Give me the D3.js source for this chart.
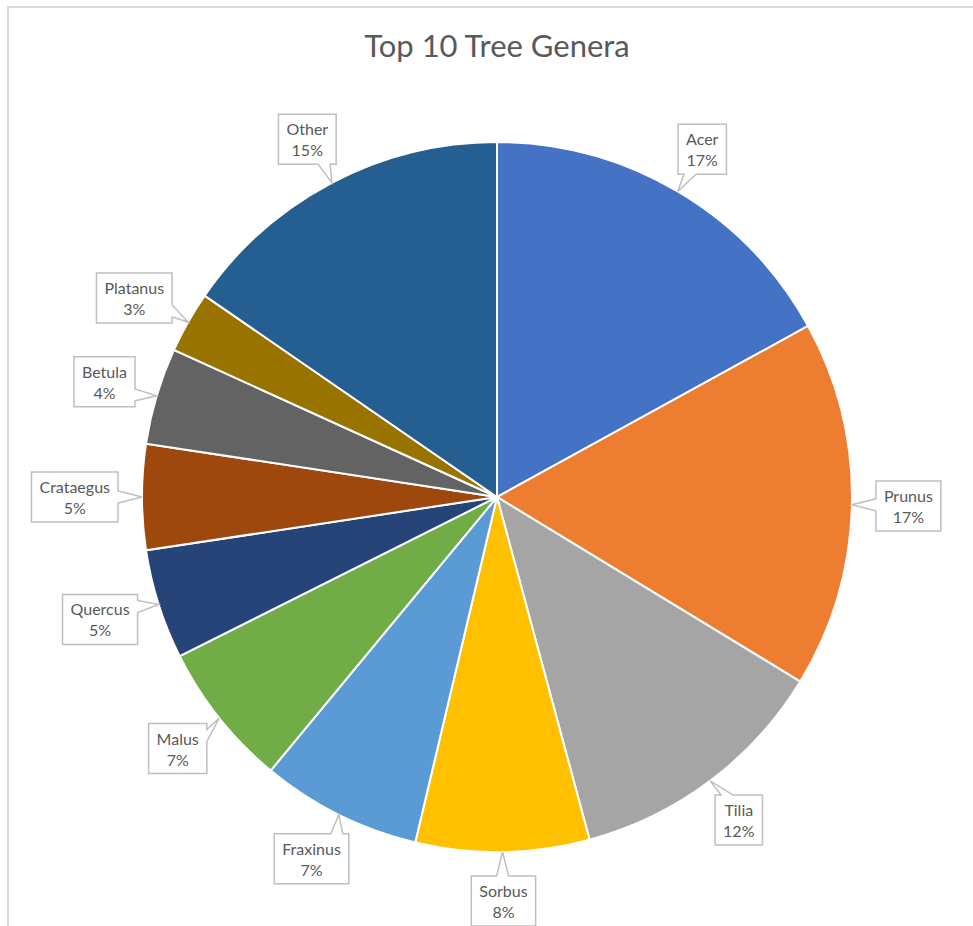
<!DOCTYPE html>
<html lang="en">
<head>
    <meta charset="UTF-8">
    <title>Top 10 Tree Genera</title>
    <style>
        body {
            margin: 0;
            padding: 0;
            background-color: white;
            font-family: Lato, "Open Sans", sans-serif;
        }
        .slice {
            stroke: white;
            stroke-width: 2;
        }
        .callout {
            fill: white;
            stroke: #bfbfbf;
            stroke-width: 1.5;
        }
        .label {
            fill: #595959;
            font-size: 16px;
        }
    </style>
    <script src="https://d3js.org/d3.v7.min.js"></script>
</head>
<body>
    <div id="chart"></div>

    <script>
        // Data (shares out of 1000)
        const genera = ["Acer", "Prunus", "Tilia", "Sorbus", "Fraxinus", "Malus",
                        "Quercus", "Crataegus", "Betula", "Platanus", "Other"];
        const counts = [170, 167, 121, 79, 73, 66, 50, 48, 44, 28, 154];
        const colours = ["#4472c4", "#ed7d31", "#a5a5a5", "#ffc000", "#5b9bd5", "#70ad47",
                         "#264478", "#9e480e", "#636363", "#997300", "#255e91"];

        const width = 973, height = 926;
        const cx = 497, cy = 497, radius = 355;

        const data = genera.map((g, i) => ({ name: g, value: counts[i], colour: colours[i] }));
        const total = d3.sum(counts);

        const svg = d3.select("#chart")
            .append("svg")
            .attr("width", width)
            .attr("height", height);

        // chart area frame
        svg.append("path")
            .attr("d", `M8,${height} L8,7 L${width},7`)
            .attr("fill", "none")
            .attr("stroke", "#d9d9d9")
            .attr("stroke-width", 2);

        svg.append("text")
            .attr("x", cx)
            .attr("y", 57)
            .attr("text-anchor", "middle")
            .attr("fill", "#595959")
            .style("font-size", "31px")
            .text("Top 10 Tree Genera");

        const pie = d3.pie().value(d => d.value).sort(null);
        const arc = d3.arc().innerRadius(0).outerRadius(radius);
        const arcs = pie(data);

        const g = svg.append("g").attr("transform", `translate(${cx},${cy})`);

        g.selectAll(".slice")
            .data(arcs)
            .enter().append("path")
            .attr("class", "slice")
            .attr("fill", d => d.data.colour)
            .attr("d", arc);

        // callout labels
        function calloutPath(x0, y0, w, h, tx, ty) {
            const x1 = x0 + w, y1 = y0 + h;
            const bcx = x0 + w / 2, bcy = y0 + h / 2;
            const dx = tx - bcx, dy = ty - bcy;
            const base = 12;
            let side;
            if (Math.abs(dx) / w > Math.abs(dy) / h) side = dx < 0 ? "left" : "right";
            else side = dy < 0 ? "top" : "bottom";
            const clampX = v => Math.max(x0 + 6, Math.min(x1 - 6 - base, v));
            const clampY = v => Math.max(y0 + 6, Math.min(y1 - 6 - base, v));
            let p = `M${x0},${y0}`;
            if (side === "top") {
                const a = clampX(tx - base / 2);
                p += `L${a},${y0}L${tx},${ty}L${a + base},${y0}`;
            }
            p += `L${x1},${y0}`;
            if (side === "right") {
                const a = clampY(ty - base / 2);
                p += `L${x1},${a}L${tx},${ty}L${x1},${a + base}`;
            }
            p += `L${x1},${y1}`;
            if (side === "bottom") {
                const a = clampX(tx - base / 2);
                p += `L${a + base},${y1}L${tx},${ty}L${a},${y1}`;
            }
            p += `L${x0},${y1}`;
            if (side === "left") {
                const a = clampY(ty - base / 2);
                p += `L${x0},${a + base}L${tx},${ty}L${x0},${a}`;
            }
            return p + "Z";
        }

        const labels = g.selectAll(".lab")
            .data(arcs)
            .enter().append("g")
            .attr("class", "lab");

        labels.each(function (d) {
            const sel = d3.select(this);
            const mid = (d.startAngle + d.endAngle) / 2;
            const sx = Math.sin(mid), sy = -Math.cos(mid);
            const tip = [sx * radius, sy * radius];
            const anchor = [sx * (radius + 24), sy * (radius + 24)];
            const pct = Math.round(d.data.value / total * 100) + "%";

            const path = sel.append("path").attr("class", "callout");
            const t1 = sel.append("text").attr("class", "label")
                .attr("text-anchor", "middle").text(d.data.name);
            const t2 = sel.append("text").attr("class", "label")
                .attr("text-anchor", "middle").text(pct);

            const tw = Math.max(t1.node().getComputedTextLength(), t2.node().getComputedTextLength());
            const w = tw + 16, h = 50;
            const bx = anchor[0] + sx * w / 2;
            const by = anchor[1] + sy * h / 2;
            const x0 = bx - w / 2, y0 = by - h / 2;

            path.attr("d", calloutPath(x0, y0, w, h, tip[0], tip[1]));
            t1.attr("x", bx).attr("y", by - 4);
            t2.attr("x", bx).attr("y", by + 17);
        });
    </script>
</body>
</html>
